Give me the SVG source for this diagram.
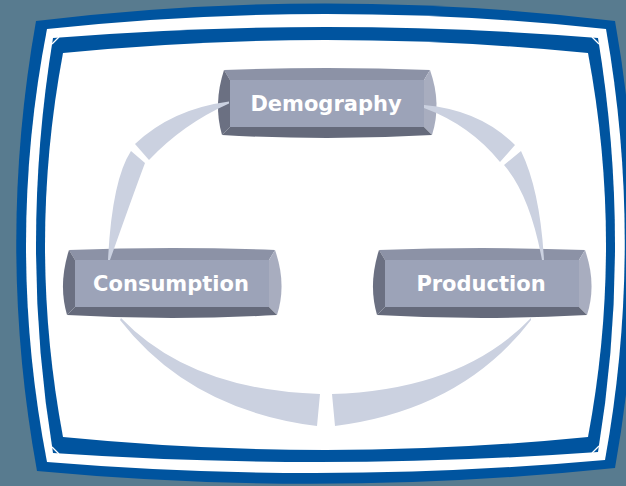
<svg xmlns="http://www.w3.org/2000/svg" width="626" height="486" viewBox="0 0 626 486">
<style>
.blue{fill:#00549f}
.white{fill:#ffffff}
.cut{stroke:#ffffff;stroke-width:1.3;fill:none}
.bt{fill:#8c92a6}
.br{fill:#a8adbf}
.bb{fill:#656a7b}
.bl{fill:#6b7082}
.face{fill:#9ca3b8}
.lbl{font-family:"DejaVu Sans",Verdana,sans-serif;font-weight:bold;font-size:21px;fill:#ffffff;text-anchor:middle}
.conn{fill:#cbd1e0}
</style>
<defs>
<g id="bevel">
<path class="bt" d="M7,3 Q110,-1 213,3 L207,13 L13,13 Z"/>
<path class="br" d="M213,3 Q225,37 215,68 L207,60 L207,13 Z"/>
<path class="bb" d="M215,68 Q110,74 5,68 L13,60 L207,60 Z"/>
<path class="bl" d="M5,68 Q-4,37 7,3 L13,13 L13,60 Z"/>
<rect class="face" x="13" y="13" width="194" height="47"/>
</g>
</defs>
<rect width="626" height="486" fill="#587b8f"/>
<g id="frame">
<path class="blue" d="M36,21 Q325,-14 615,21 Q655,245 615,468 Q326,498 37,471 Q-4,246 36,21 Z"/>
<path class="white" d="M47,29 Q326,-1 606,29 Q644,245 605,460 Q326,485 47,462 Q5,245 47,29 Z"/>
<path class="blue" d="M53,38 Q326,16 598,38 Q632,245 598,452 Q326,471.5 53,453 Q19,245 53,38 Z"/>
<path class="white" d="M63,53 Q326,27 588,53 Q624,245 588,437 Q326,463 63,437 Q27,245 63,53 Z"/>
<path class="cut" d="M52,44 L59,37 M592,37 L599,44 M52,447 L59,454 M592,453 L599,446"/>
</g>
<g id="node-demography">
<use href="#bevel" transform="translate(217,67)"/>
<text class="lbl" x="326" y="111">Demography</text>
</g>
<g id="node-consumption">
<use href="#bevel" transform="translate(62,247)"/>
<text class="lbl" x="171" y="291">Consumption</text>
</g>
<g id="node-production">
<use href="#bevel" transform="translate(372,247)"/>
<text class="lbl" x="481" y="291">Production</text>
</g>
<g id="connectors">
<path class="conn" d="M229,101.5 Q172,109 135,144 L149,160 Q183,124 229,103.5 Z"/>
<path class="conn" d="M131,151 L145,163 Q133,195 110,260 L108,260 Q112,180 131,151 Z"/>
<path class="conn" d="M424,105 Q480,110 515,145 L500,162 Q470,125 424,108 Z"/>
<path class="conn" d="M504,165 L521,151 Q540,190 544,260 L542,260 Q530,195 504,165 Z"/>
<path class="conn" d="M121,318 Q190,390 320,394 L317,426 Q190,410 120,320 Z"/>
<path class="conn" d="M332,394 Q462,390 531,318 L531,320 Q462,410 335,426 Z"/>
</g>
</svg>
